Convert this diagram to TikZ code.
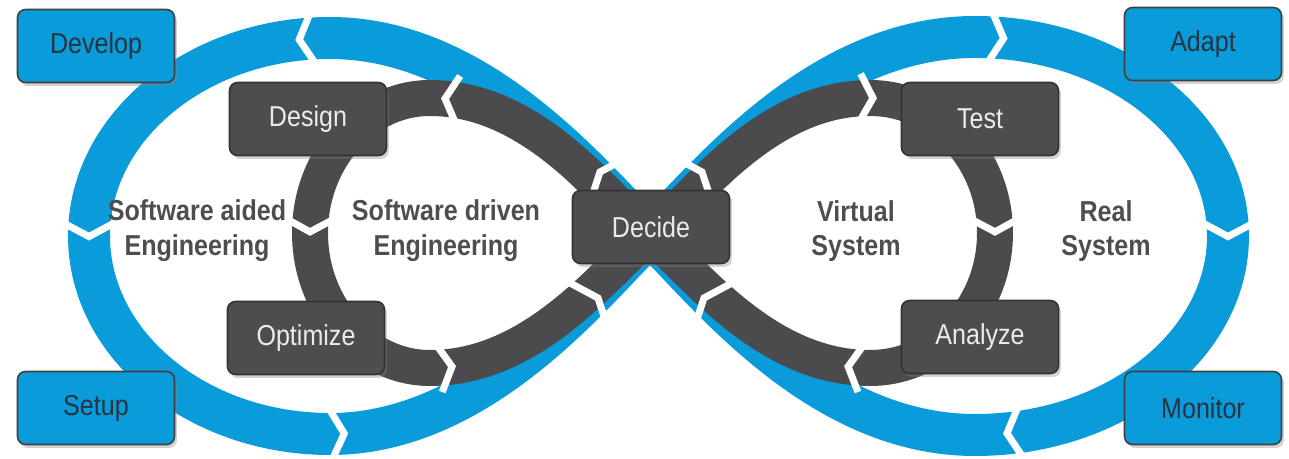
\documentclass[tikz,border=0pt]{standalone}
\usepackage{fontspec}
\setmainfont{Liberation Sans}[FakeStretch=0.87]
\usetikzlibrary{shadows,decorations.markings}
\definecolor{ringblue}{HTML}{0A9BDB}
\definecolor{ringdark}{HTML}{4B4B4D}
\definecolor{boxdark}{HTML}{4D4D4F}
\definecolor{labelgray}{HTML}{4E4E4E}
\definecolor{bluetext}{HTML}{27343F}
\newcommand\chevdraw[2]{\draw[white, line width=0.14cm, line join=miter, line cap=butt] (-#1,#2) -- (0cm,0cm) -- (-#1,-#2);}
\tikzset{
  bluebox/.style={rectangle, rounded corners=0.16cm, fill=ringblue, draw=black!75, line width=0.9pt,
    minimum width=3.14cm, minimum height=1.46cm, inner sep=0pt, text=bluetext,
    font=\fontsize{16.4}{20}\selectfont,
    drop shadow={opacity=0.35, shadow xshift=0.05cm, shadow yshift=-0.07cm}},
  darkbox/.style={bluebox, fill=boxdark, draw=black!80, text=white!92!black},
  lbl/.style={align=center, font=\bfseries\fontsize{16.4}{19.8}\selectfont, text=labelgray, inner sep=0pt},
  blueband/.style={draw=ringblue, line width=0.84cm},
  darkband/.style={draw=ringdark, line width=0.72cm},
  bchevs/.style n args={3}{postaction={decorate, decoration={markings,
      mark=at position #1 with {\chevdraw{0.3cm}{0.56cm}},
      mark=at position #2 with {\chevdraw{0.3cm}{0.56cm}},
      mark=at position #3 with {\chevdraw{0.3cm}{0.56cm}}}}},
  dchevs/.style n args={3}{postaction={decorate, decoration={markings,
      mark=at position #1 with {\chevdraw{0.26cm}{0.48cm}},
      mark=at position #2 with {\chevdraw{0.26cm}{0.48cm}},
      mark=at position #3 with {\chevdraw{0.26cm}{0.48cm}}}}},
  cnotch/.pic={\draw[white, line width=0.14cm, line join=miter, line cap=butt] (-0.28cm,0.7cm) -- (0cm,0cm) -- (-0.28cm,-0.7cm);}
}
\begin{document}
\begin{tikzpicture}[x=0.02cm,y=-0.02cm]
\useasboundingbox (0,0) rectangle (1289,459);
% outer blue figure eight
\draw[blueband, bchevs={0.285}{0.5}{0.745}] (650,235) .. controls (590,175) and (480,38) .. (330,38)
  .. controls (197,38) and (89,127) .. (89,236)
  .. controls (89,345) and (197,434) .. (330,434)
  .. controls (480,434) and (590,295) .. (650,235);
\draw[blueband, bchevs={0.281}{0.5}{0.716}] (650,235) .. controls (710,175) and (820,37) .. (975,37)
  .. controls (1115,37) and (1228,127) .. (1228,236)
  .. controls (1228,345) and (1115,435) .. (975,435)
  .. controls (820,435) and (710,295) .. (650,235);
% inner dark figure eight
\draw[darkband, dchevs={0.27}{0.5}{0.74}] (650,235) .. controls (605,198) and (535,98) .. (430,98)
  .. controls (364,98) and (310,159) .. (310,233)
  .. controls (310,307) and (364,368) .. (430,368)
  .. controls (535,368) and (605,272) .. (650,235);
\draw[darkband, dchevs={0.287}{0.5}{0.742}] (650,235) .. controls (695,198) and (765,98) .. (870,98)
  .. controls (939,98) and (995,159) .. (995,233)
  .. controls (995,307) and (939,368) .. (870,368)
  .. controls (765,368) and (695,272) .. (650,235);
% notches near the crossing
\pic[rotate=140] at (600,172) {cnotch};
\pic[rotate=40] at (598,298) {cnotch};
\pic[rotate=40] at (702,172) {cnotch};
\pic[rotate=140] at (704,298) {cnotch};
% labels
\node[lbl] (sae) at (197,231) {Software aided\\Engineering};
\node[lbl] (sde) at (446,231) {Software driven\\Engineering};
\node[lbl] (vs) at (856,231) {Virtual\\System};
\node[lbl] (rs) at (1106,231) {Real\\System};
% boxes
\node[bluebox] (develop) at (96,46) {Develop};
\node[bluebox] (setup) at (96,408) {Setup};
\node[bluebox] (adapt) at (1203,44) {Adapt};
\node[bluebox] (monitor) at (1203,408) {Monitor};
\node[darkbox] (design) at (308,119) {Design};
\node[darkbox] (optimize) at (306,338) {Optimize};
\node[darkbox] (decide) at (651,227) {Decide};
\node[darkbox] (test) at (980,119) {Test};
\node[darkbox] (analyze) at (980,337) {Analyze};
\end{tikzpicture}
\end{document}
